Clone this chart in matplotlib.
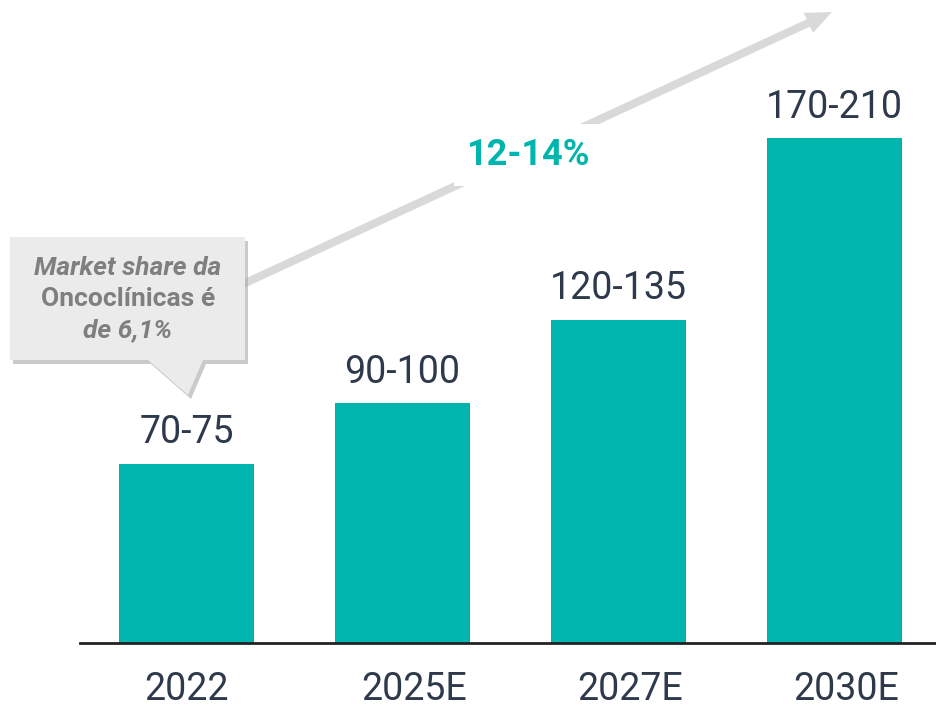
import matplotlib.pyplot as plt
import matplotlib.transforms as mtransforms
from matplotlib.patches import Polygon, FancyArrow

# data
years = ['2022', '2025E', '2027E', '2030E']
bar_values = [71, 95, 128, 200]
bar_labels = ['70-75', '90-100', '120-135', '170-210']
cagr_label = '12-14%'
callout_lines = ['Market share da', 'Oncoclínicas é', 'de 6,1%']

teal = '#00B5AD'
dark = '#2E3A4B'
gray_txt = '#7F7F7F'

plt.rcParams['font.family'] = ['Roboto', 'DejaVu Sans']

W, H = 937, 707
fig = plt.figure(figsize=(W / 100, H / 100), dpi=100)

# main bar axes
base_px = 643
ax = fig.add_axes([80 / W, 1 - base_px / H, 1 - 80 / W, base_px / H])
x = list(range(len(years)))
ax.bar(x, bar_values, width=0.625, color=teal, zorder=2)
ax.set_xlim(-0.493, 3.475)
ax.set_ylim(0, base_px / 2.525)
for i, (v, lab) in enumerate(zip(bar_values, bar_labels)):
    ax.annotate(lab, (i, v), xytext=(0, 9), textcoords='offset points',
                ha='center', va='bottom', fontsize=27, color=dark)
for s in ['top', 'right', 'left']:
    ax.spines[s].set_visible(False)
ax.spines['bottom'].set_color('#222222')
ax.spines['bottom'].set_linewidth(2)
ax.set_yticks([])
ax.set_xticks(x)
ax.set_xticklabels(years, fontsize=27, color=dark)
ax.tick_params(axis='x', length=0, pad=20)
# the "E" labels sit a bit right of the bar centre in the original
for lbl in ax.get_xticklabels()[1:]:
    lbl.set_transform(lbl.get_transform() +
                      mtransforms.ScaledTranslation(0.12, 0, fig.dpi_scale_trans))

# overlay in pixel coords for arrow and callout
ov = fig.add_axes([0, 0, 1, 1], zorder=3)
ov.set_xlim(0, W)
ov.set_ylim(H, 0)
ov.axis('off')
ov.patch.set_alpha(0)

x0, y0, x1, y1 = 215, 297, 832, 12
ov.add_patch(FancyArrow(x0, y0, x1 - x0, y1 - y0, width=8, head_width=22,
                        head_length=26, length_includes_head=True,
                        color='#D9D9D9', lw=0, zorder=1))
ov.text(528, 155, cagr_label, ha='center', va='center', fontsize=26,
        fontweight='bold', color=teal, zorder=2,
        bbox=dict(boxstyle='square,pad=0.35', fc='white', ec='none'))

# callout box with tail
pts = [(10, 237), (245, 237), (245, 360), (203, 360), (188, 395),
       (148, 360), (10, 360)]
shadow = [(px + 3, py + 4) for px, py in pts]
ov.add_patch(Polygon(shadow, closed=True, fc='#A8A8A8', ec='none',
                     alpha=0.6, zorder=3))
ov.add_patch(Polygon(pts, closed=True, fc='#EBEBEB', ec='none', zorder=4))
styles = ['italic', 'normal', 'italic']
for i, (line, st) in enumerate(zip(callout_lines, styles)):
    ov.text(128, 268 + 31 * i, line, ha='center', va='center', fontsize=19,
            fontweight='bold', fontstyle=st, color=gray_txt, zorder=5)

fig.savefig('out.png', dpi=100)
